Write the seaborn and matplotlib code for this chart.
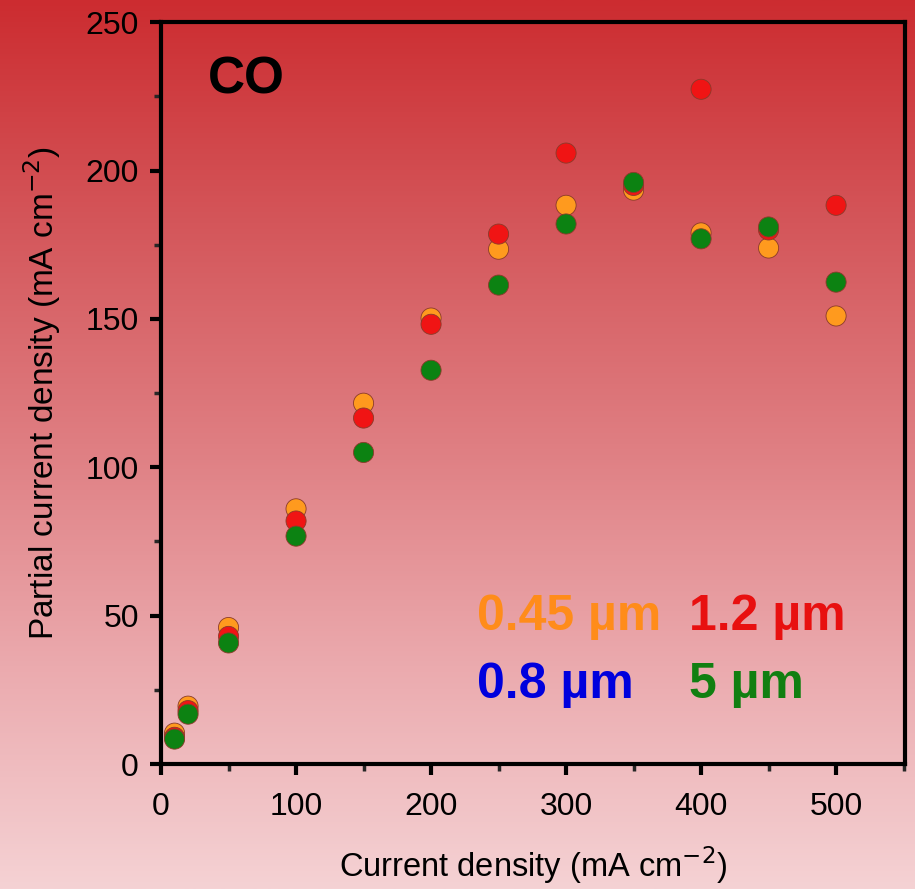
import numpy as np
import pandas as pd
import matplotlib
matplotlib.use("Agg")
import matplotlib.pyplot as plt
import seaborn as sns
from matplotlib.ticker import MultipleLocator

# ---- data ----
current_density = [10, 20, 50, 100, 150, 200, 250, 300, 350, 400, 450, 500]
co_045 = [10.4, 19.5, 46.0, 86.0, 121.6, 150.3, 173.5, 188.3, 193.4, 179.0, 173.9, 151.0]
co_12 = [9.0, 18.0, 43.0, 81.9, 116.6, 148.2, 178.6, 205.9, 195.0, 227.4, 180.0, 188.3]
co_5 = [8.4, 16.8, 40.8, 76.8, 105.0, 132.7, 161.4, 182.0, 196.0, 177.0, 181.0, 162.4]
series_labels = ["0.45 µm", "1.2 µm", "0.8 µm", "5 µm"]

sns.set_style("ticks")
plt.rcParams["font.family"] = ["Liberation Sans", "DejaVu Sans"]
plt.rcParams["text.color"] = "black"
plt.rcParams["axes.labelcolor"] = "black"

df = pd.DataFrame({
    "x": current_density * 3,
    "y": co_045 + co_12 + co_5,
    "size": ["0.45 µm"] * 12 + ["1.2 µm"] * 12 + ["5 µm"] * 12,
})
palette = {"0.45 µm": "#FF9A1E", "1.2 µm": "#F01414", "5 µm": "#0C8212"}

fig = plt.figure(figsize=(9.15, 8.89), dpi=100)

# gradient background
bg = fig.add_axes([0, 0, 1, 1], zorder=-10)
top = np.array([204, 44, 48]) / 255
mid1 = np.array([212, 86, 90]) / 255
mid2 = np.array([223, 126, 130]) / 255
mid3 = np.array([235, 170, 174]) / 255
bot = np.array([245, 210, 212]) / 255
stops = np.array([0, 0.25, 0.5, 0.75, 1.0])
cols = np.stack([top, mid1, mid2, mid3, bot])
t = np.linspace(0, 1, 400)
grad = np.stack([np.interp(t, stops, cols[:, k]) for k in range(3)], axis=-1)
bg.imshow(grad[:, None, :], aspect="auto", extent=[0, 1, 0, 1], origin="upper")
bg.set_axis_off()

ax = fig.add_axes([0.176, 0.1406, 0.813, 0.8344])
ax.set_facecolor("none")

sns.scatterplot(data=df, x="x", y="y", hue="size", palette=palette,
                hue_order=["0.45 µm", "1.2 µm", "5 µm"],
                s=210, edgecolor="#8a3a2a", linewidth=0.6, legend=False,
                ax=ax, zorder=3)

ax.set_xlim(0, 551)
ax.set_ylim(0, 250)
ax.xaxis.set_major_locator(MultipleLocator(100))
ax.xaxis.set_minor_locator(MultipleLocator(50))
ax.yaxis.set_major_locator(MultipleLocator(50))
ax.yaxis.set_minor_locator(MultipleLocator(25))
for sp in ax.spines.values():
    sp.set_linewidth(3)
    sp.set_color("black")
ax.tick_params(which="major", direction="out", length=8, width=3,
               labelsize=23, pad=8, colors="black")
ax.tick_params(which="minor", direction="out", length=5, width=2.5)
ax.tick_params(axis="x", pad=12)

ax.set_xlabel("Current density (mA cm$^{-2}$)", fontsize=23.5, labelpad=16)
ax.set_ylabel("Partial current density (mA cm$^{-2}$)", fontsize=24, labelpad=16)

ax.text(0.063, 0.955, "CO", transform=ax.transAxes, fontsize=37,
        fontweight="bold", va="top", ha="left", color="black")

label_colors = ["#FF8C1A", "#E81010", "#0000DD", "#117F11"]
positions = [(0.425, 0.198), (0.710, 0.198), (0.425, 0.106), (0.710, 0.106)]
for lab, c, (px, py) in zip(series_labels, label_colors, positions):
    ax.text(px, py, lab, transform=ax.transAxes, fontsize=36,
            fontweight="bold", color=c, ha="left", va="center")

fig.savefig("out.png", dpi=100)
